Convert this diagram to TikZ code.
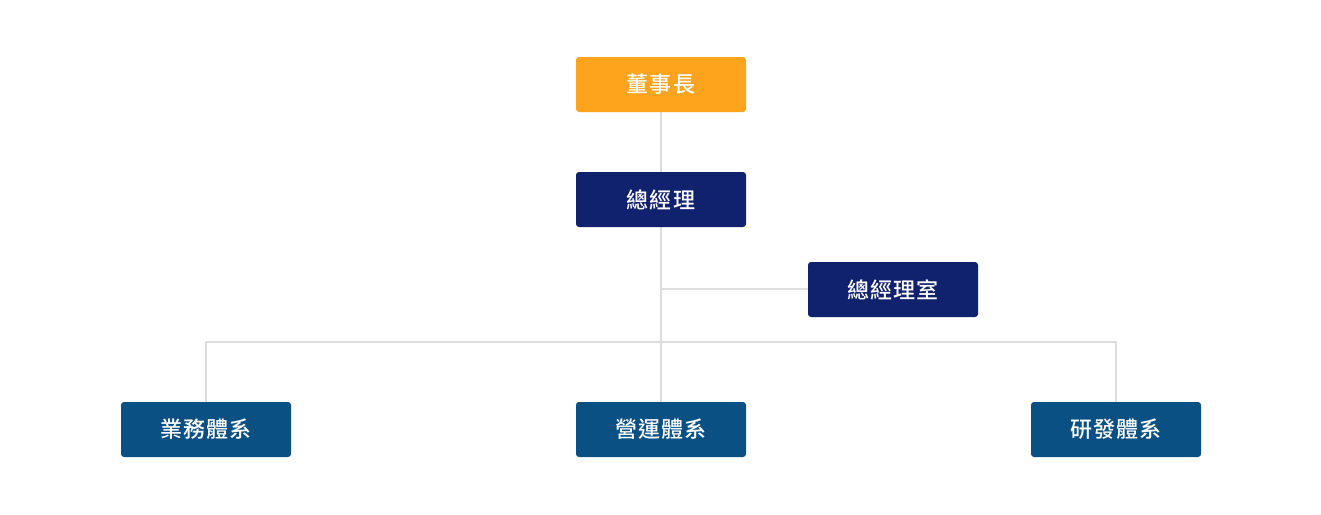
\documentclass[tikz,border=0pt]{standalone}
\usepackage{fontspec}
\usetikzlibrary{backgrounds}
\newfontfamily\cjk[LetterSpace=5]{Noto Sans CJK TC Medium}
\definecolor{orangebox}{HTML}{FDA41C}
\definecolor{navybox}{HTML}{10216E}
\definecolor{bluebox}{HTML}{0A5082}
\definecolor{linegray}{HTML}{DDDDDD}
\tikzset{
  box/.style={rounded corners=3pt, minimum width=170pt, minimum height=55pt, inner sep=0pt, text=white, font=\cjk\fontsize{22}{25}\selectfont, anchor=center},
  conn/.style={draw=linegray, line width=1.5pt}
}
\begin{document}
\begin{tikzpicture}[x=1pt,y=-1pt]
\useasboundingbox (0,0) rectangle (1321,514);
\node[box, fill=orangebox] (chair) at (661,84.5) {董事長};
\node[box, fill=navybox] (gm) at (661,199.5) {總經理};
\node[box, fill=navybox] (office) at (893,289.5) {總經理室};
\node[box, fill=bluebox] (biz) at (206,429.5) {業務體系};
\node[box, fill=bluebox] (ops) at (661,429.5) {營運體系};
\node[box, fill=bluebox] (rd) at (1116,429.5) {研發體系};
\coordinate (j1) at (661,289);
\coordinate (j2) at (661,342);
\begin{scope}[on background layer]
\fill[white] (0,0) rectangle (1321,514);
\draw[conn] (chair.south) -- (gm.north);
\draw[conn] (gm.south) -- (ops.north);
\draw[conn] (j1) -- (office.west |- j1);
\draw[conn] (biz.north) |- (j2) -| (rd.north);
\end{scope}
\end{tikzpicture}
\end{document}
